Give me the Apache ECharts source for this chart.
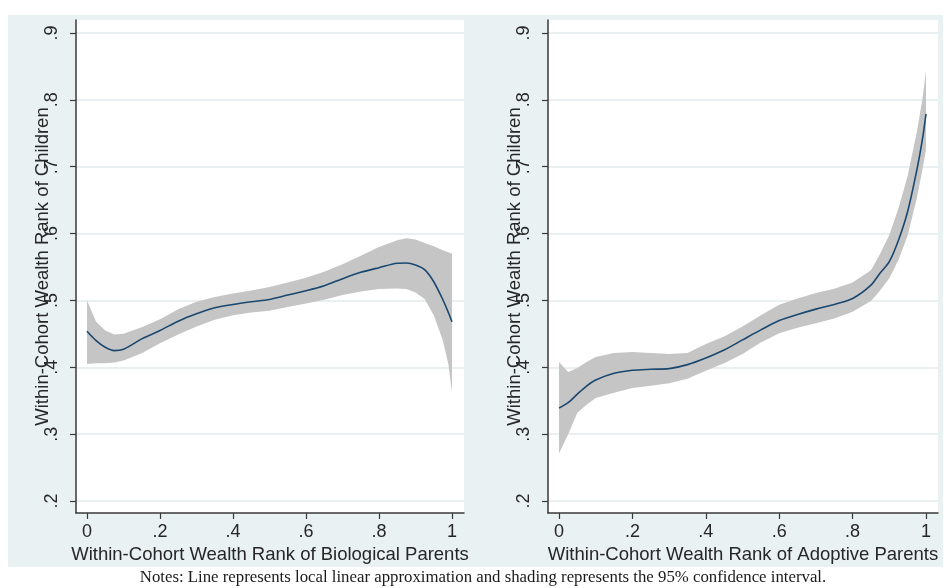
<!DOCTYPE html>
<html>
<head>
<meta charset="utf-8">
<script src="https://cdn.jsdelivr.net/npm/echarts@6/dist/echarts.min.js"></script>
<style>
  html, body { margin: 0; padding: 0; background: #ffffff; }
  #chart { width: 944px; height: 588px; }
</style>
</head>
<body>
<div id="chart"></div>
<script>
// Parent wealth rank grid (shared by both panels)
const rankX = [0, 0.025, 0.05, 0.075, 0.1, 0.15, 0.2, 0.25, 0.3, 0.35, 0.4, 0.45, 0.5, 0.55,
               0.6, 0.65, 0.7, 0.75, 0.8, 0.85, 0.875, 0.9, 0.925, 0.95, 0.975, 0.99, 1];

// Biological parents: local linear fit and 95% CI bounds
const bioFit  = [0.454, 0.440, 0.430, 0.425, 0.427, 0.4425, 0.455, 0.469, 0.480, 0.489, 0.494, 0.498, 0.5015, 0.508,
                 0.5145, 0.522, 0.5325, 0.542, 0.549, 0.5555, 0.556, 0.553, 0.546, 0.528, 0.501, 0.482, 0.468];
const bioLow  = [0.405, 0.406, 0.406, 0.407, 0.410, 0.421, 0.436, 0.449, 0.461, 0.471, 0.478, 0.482, 0.4845, 0.490,
                 0.4955, 0.501, 0.508, 0.5135, 0.517, 0.518, 0.517, 0.512, 0.502, 0.478, 0.440, 0.405, 0.363];
const bioHigh = [0.500, 0.468, 0.455, 0.449, 0.450, 0.460, 0.472, 0.487, 0.498, 0.505, 0.5105, 0.515, 0.520, 0.527,
                 0.534, 0.543, 0.554, 0.567, 0.580, 0.590, 0.593, 0.591, 0.586, 0.581, 0.575, 0.572, 0.570];

// Adoptive parents: local linear fit and 95% CI bounds
const adoFit  = [0.339, 0.347, 0.360, 0.372, 0.381, 0.391, 0.3955, 0.397, 0.398, 0.404, 0.414, 0.426, 0.441, 0.456,
                 0.470, 0.479, 0.487, 0.494, 0.503, 0.523, 0.541, 0.558, 0.590, 0.633, 0.695, 0.740, 0.779];
const adoLow  = [0.271, 0.300, 0.332, 0.344, 0.354, 0.362, 0.369, 0.3725, 0.376, 0.383, 0.395, 0.406, 0.420, 0.437,
                 0.451, 0.459, 0.466, 0.473, 0.483, 0.499, 0.515, 0.533, 0.5605, 0.597, 0.653, 0.695, 0.725];
const adoHigh = [0.408, 0.393, 0.399, 0.408, 0.4155, 0.4215, 0.423, 0.4215, 0.420, 0.4215, 0.435, 0.446, 0.461, 0.478,
                 0.4935, 0.503, 0.511, 0.5175, 0.527, 0.545, 0.570, 0.598, 0.638, 0.686, 0.752, 0.800, 0.843];

// Tick labels
const xTicks = [0, 0.2, 0.4, 0.6, 0.8, 1];
const yTicks = [0.2, 0.3, 0.4, 0.5, 0.6, 0.7, 0.8, 0.9];

const yTitle = 'Within-Cohort Wealth Rank of Children';
const xTitles = ['Within-Cohort Wealth Rank of Biological Parents', 'Within-Cohort Wealth Rank of Adoptive Parents'];
const noteText = 'Notes: Line represents local linear approximation and shading represents the 95% confidence interval.';

const SANS = '"Liberation Sans", Arial, sans-serif';
const SERIF = '"Liberation Serif", "Times New Roman", serif';
const AXIS_COLOR = '#3a3a3a';
const TEXT_COLOR = '#262626';

// Stata-style short decimals: .2, .4 ... with bare 0 and 1
function fmt(v) {
  if (v === 0) return '0';
  if (v === 1) return '1';
  return String(Math.round(v * 10) / 10).replace(/^0/, '');
}

function xAxisFor(gridIndex, title) {
  return {
    type: 'value', gridIndex: gridIndex,
    min: -0.0301, max: 1.0329,
    name: title, nameLocation: 'middle', nameGap: 29,
    nameTextStyle: { fontFamily: SANS, fontSize: 18.5, color: TEXT_COLOR },
    axisLine: { show: true, onZero: false, lineStyle: { color: AXIS_COLOR, width: 1.5 } },
    axisTick: { show: true, length: 6, customValues: xTicks, lineStyle: { color: AXIS_COLOR, width: 1.2 } },
    axisLabel: { customValues: xTicks, formatter: fmt, margin: 10,
                 fontFamily: SANS, fontSize: 18, color: TEXT_COLOR },
    splitLine: { show: false }
  };
}

function yAxisFor(gridIndex) {
  return {
    type: 'value', gridIndex: gridIndex,
    min: 0.1821, max: 0.9194,
    name: yTitle, nameLocation: 'middle', nameGap: 24, nameMoveOverlap: false,
    nameTextStyle: { fontFamily: SANS, fontSize: 18.5, color: TEXT_COLOR },
    axisLine: { show: true, onZero: false, lineStyle: { color: AXIS_COLOR, width: 1.5 } },
    axisTick: { show: true, length: 6, customValues: yTicks, lineStyle: { color: AXIS_COLOR, width: 1.2 } },
    axisLabel: { customValues: yTicks, formatter: fmt, rotate: 90, margin: 15,
                 fontFamily: SANS, fontSize: 18, color: TEXT_COLOR },
    splitLine: { show: true, lineStyle: { color: '#e3eaed', width: 1.5 } }
  };
}

// Confidence band drawn as one polygon from the upper and lower bounds
function bandSeries(idx, low, high) {
  return {
    type: 'custom', xAxisIndex: idx, yAxisIndex: idx, silent: true, z: 1,
    encode: { x: 0, y: [1, 2] },
    data: rankX.map((x, i) => [x, low[i], high[i]]),
    renderItem: function (params, api) {
      if (params.dataIndex !== 0) return null;
      const pts = [];
      for (let i = 0; i < rankX.length; i++) pts.push(api.coord([rankX[i], high[i]]));
      for (let i = rankX.length - 1; i >= 0; i--) pts.push(api.coord([rankX[i], low[i]]));
      return { type: 'polygon', shape: { points: pts }, style: { fill: '#c5c5c5', stroke: null } };
    }
  };
}

function fitSeries(idx, fit) {
  return {
    type: 'line', xAxisIndex: idx, yAxisIndex: idx, silent: true, z: 3,
    data: rankX.map((x, i) => [x, fit[i]]),
    showSymbol: false, smooth: 0.3,
    lineStyle: { color: '#1a476f', width: 1.6 }
  };
}

const chart = echarts.init(document.getElementById('chart'), null, { renderer: 'canvas' });
chart.setOption({
  animation: false,
  backgroundColor: '#ffffff',
  grid: [
    { left: 76, top: 20, width: 388, height: 493, show: true, backgroundColor: '#ffffff', borderWidth: 0 },
    { left: 548, top: 20, width: 390, height: 493, show: true, backgroundColor: '#ffffff', borderWidth: 0 }
  ],
  xAxis: [xAxisFor(0, xTitles[0]), Object.assign(xAxisFor(1, xTitles[1]), { min: -0.030, max: 1.0327 })],
  yAxis: [yAxisFor(0), yAxisFor(1)],
  series: [
    bandSeries(0, bioLow, bioHigh),
    fitSeries(0, bioFit),
    bandSeries(1, adoLow, adoHigh),
    fitSeries(1, adoFit)
  ],
  graphic: [
    { type: 'rect', z: -10, silent: true,
      shape: { x: 8, y: 15, width: 935, height: 552 },
      style: { fill: '#eaf1f3' } },
    { type: 'text', z: 10, silent: true,
      style: { x: 483, y: 578, text: noteText, textAlign: 'center', textVerticalAlign: 'middle',
               font: '16.8px ' + SERIF, fill: '#1a1a1a' } }
  ]
});
</script>
</body>
</html>
